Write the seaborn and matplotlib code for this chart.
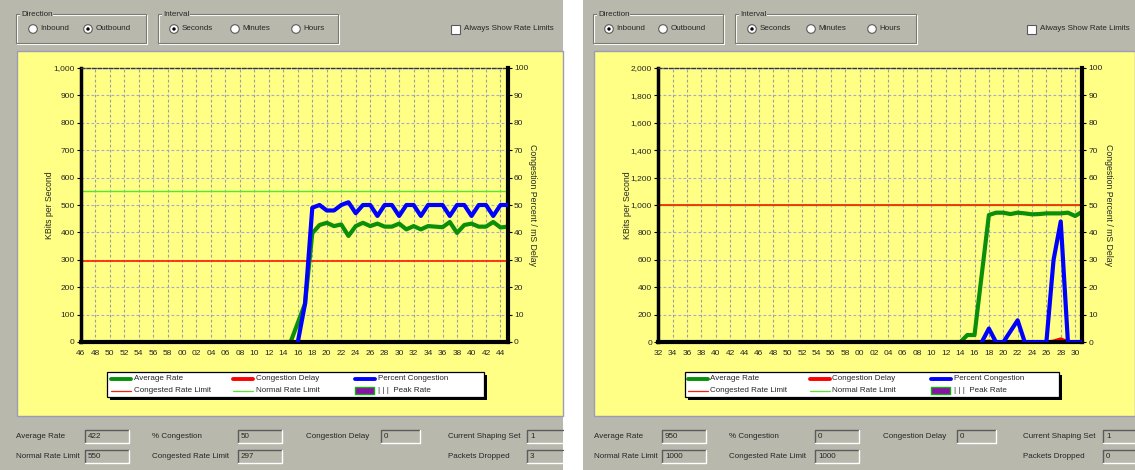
import numpy as np
import pandas as pd
import matplotlib
matplotlib.use("Agg")
import matplotlib.pyplot as plt
import seaborn as sns
from matplotlib.patches import Rectangle, Circle
from matplotlib.lines import Line2D
from matplotlib.ticker import MultipleLocator, FuncFormatter

sns.set_style("white")
plt.rcParams['font.family'] = ['Liberation Sans', 'DejaVu Sans']

# ---------------- data ----------------
left_tick_labels = ["46", "48", "50", "52", "54", "56", "58", "00", "02", "04", "06", "08", "10", "12", "14",
                    "16", "18", "20", "22", "24", "26", "28", "30", "32", "34", "36", "38", "40", "42", "44"]
right_tick_labels = ["32", "34", "36", "38", "40", "42", "44", "46", "48", "50", "52", "54", "56", "58", "00",
                     "02", "04", "06", "08", "10", "12", "14", "16", "18", "20", "22", "24", "26", "28", "30"]

# values per second; each series starts at the given second index (0..59)
left_avg_start = 28
left_avg = [0, 0, 70, 140, 397, 427, 435, 423, 429, 387, 423, 435, 423, 432, 421, 421,
            432, 411, 423, 411, 423, 421, 419, 438, 398, 427, 432, 421, 421, 438, 418, 421]
left_pct_start = 30
left_pct = [0, 14, 49, 50, 48, 48, 50, 51, 47, 50, 50, 46, 50, 50, 46,
            50, 50, 46, 50, 50, 50, 46, 50, 50, 46, 50, 50, 46, 50, 50]
left_delay_start = 30
left_delay = [0, 0, 0, 0, 0, 0, 0, 0, 0, 0, 0, 0, 0, 0, 0,
              0, 0, 0, 0, 0, 0, 0, 0, 0, 0, 0, 0, 0, 0, 0]
left_normal_limit = 550
left_congested_limit = 297
left_ymax = 1000

right_avg_start = 42
right_avg = [0, 53, 53, 490, 927, 944, 944, 934, 944, 939, 932, 934, 939, 939, 939, 944, 920, 951]
right_pct_start = 45
right_pct = [0, 5, 0, 0, 4, 8, 0, 0, 0, 0, 30, 44, 0, 0, 0]
right_delay_start = 45
right_delay = [0, 0.4, 0, 0, 0, 0, 0, 0, 0, 0, 0.4, 1.2, 0.2, 0, 0]
right_normal_limit = 1000
right_congested_limit = 1000
right_ymax = 2000

left_stats = [("Average Rate", "422"), ("% Congestion", "50"), ("Congestion Delay", "0"),
              ("Current Shaping Set", "1"), ("Normal Rate Limit", "550"),
              ("Congested Rate Limit", "297"), ("Packets Dropped", "3")]
right_stats = [("Average Rate", "950"), ("% Congestion", "0"), ("Congestion Delay", "0"),
               ("Current Shaping Set", "1"), ("Normal Rate Limit", "1000"),
               ("Congested Rate Limit", "1000"), ("Packets Dropped", "0")]

# ---------------- style ----------------
W, H = 1135, 470
GRAY = "#b8b8ad"
YELLOW = "#ffff85"
C_AVG = "#0a8f0a"
C_PCT = "#0000ff"
C_DELAY = "#ff0000"
C_NORMAL = "#55e633"
C_CONG = "#ff1a00"
UI_FS = 5.75
TICK_FS = 6.0

fig = plt.figure(figsize=(W / 100, H / 100), dpi=100)
fig.patch.set_facecolor("white")
bg = fig.add_axes([0, 0, 1, 1])
bg.set_xlim(0, W)
bg.set_ylim(H, 0)
bg.axis("off")
bg.set_zorder(-5)


def rect_px(x0, y0, x1, y1):
    return [x0 / W, 1 - y1 / H, (x1 - x0) / W, (y1 - y0) / H]


def group_box(x0, x1, y0, y1, label):
    bg.add_patch(Rectangle((x0 + 1, y0 + 1), x1 - x0, y1 - y0, fill=False, ec="white", lw=0.8))
    bg.add_patch(Rectangle((x0, y0), x1 - x0, y1 - y0, fill=False, ec="#7a7a72", lw=0.8))
    bg.text(x0 + 5, y0, label, fontsize=UI_FS, ha="left", va="center",
            bbox=dict(fc=GRAY, ec="none", pad=0.6))


def radio(cx, cy, text, selected):
    bg.add_patch(Circle((cx, cy), 4.3, fc="white", ec="#5a5a5a", lw=0.8))
    if selected:
        bg.add_patch(Circle((cx, cy), 1.7, fc="black", ec="none"))
    bg.text(cx + 7.5, cy, text, fontsize=UI_FS, ha="left", va="center")


def checkbox(cx, cy, text):
    bg.add_patch(Rectangle((cx - 4.5, cy - 4.5), 9, 9, fc="white", ec="#5a5a5a", lw=0.8))
    bg.text(cx + 9.5, cy, text, fontsize=UI_FS, ha="left", va="center")


def edit_box(x0, yc, w, text, limit):
    y0, y1 = yc - 6.5, yc + 6.5
    x1 = min(x0 + w, limit)
    bg.add_patch(Rectangle((x0, y0), x1 - x0, 13, fc=GRAY, ec="none"))
    bg.add_line(Line2D([x0, x0, x1], [y1, y0, y0], color="#5c5c5c", lw=1.0))
    if x0 + w <= limit:
        bg.add_line(Line2D([x0, x1, x1], [y1, y1, y0], color="white", lw=1.0))
    else:
        bg.add_line(Line2D([x0, x1], [y1, y1], color="white", lw=1.0))
    bg.text(x0 + 3, yc + 0.5, text, fontsize=UI_FS, ha="left", va="center")


def panel(p):
    # background panels
    bg.add_patch(Rectangle((p["gx0"], 0), p["gx1"] - p["gx0"], H, fc=GRAY, ec="none"))
    bg.add_patch(Rectangle((p["yx0"], 51), p["yx1"] - p["yx0"], 365, fc=YELLOW, ec="#9c9cb8", lw=1))
    # top controls
    group_box(p["dir"][0], p["dir"][1], 14, 43, "Direction")
    group_box(p["int"][0], p["int"][1], 14, 43, "Interval")
    for (cx, txt, sel) in p["radios"]:
        radio(cx, 29, txt, sel)
    checkbox(p["chk"], 29, "Always Show Rate Limits")

    # chart
    x0, y0, x1, y1 = p["plot"]
    ax = fig.add_axes(rect_px(x0, y0, x1, y1))
    ax.set_facecolor("none")
    avg_df = pd.DataFrame({"t": np.arange(p["avg_start"], p["avg_start"] + len(p["avg"])), "v": p["avg"]})
    sns.lineplot(data=avg_df, x="t", y="v", ax=ax, color=C_AVG, lw=3, zorder=3)
    ax.axhline(p["normal"], color=C_NORMAL, lw=1.0, zorder=2)
    ax.axhline(p["congested"], color=C_CONG, lw=1.2, zorder=2.1)
    ax.set_xlim(0, 59)
    ax.set_ylim(0, p["ymax"])
    ax.set_xticks(np.arange(0, 59, 2))
    ax.set_xticklabels(p["labels"])
    ax.xaxis.set_minor_locator(MultipleLocator(1))
    ax.set_yticks(np.arange(0, p["ymax"] + 1, p["ymax"] / 10))
    ax.yaxis.set_major_formatter(FuncFormatter(lambda v, pos: f"{int(round(v)):,}"))
    ax.tick_params(axis="x", which="both", direction="inout", length=4, width=0.8,
                   color="black", labelsize=TICK_FS, pad=3.5)
    ax.tick_params(axis="y", which="major", direction="out", length=3, width=0.8,
                   color="black", labelsize=TICK_FS, pad=1.5)
    ax.set_xlabel("")
    ax.set_ylabel("")
    ax.set_axisbelow(True)
    ax.yaxis.grid(True, color="#a8a8d0", ls=(0, (2.5, 2)), lw=0.8)
    ax.xaxis.grid(True, color="#9e9e9e", ls=(0, (2.5, 2)), lw=0.8)
    for s in ["right", "bottom"]:
        ax.spines[s].set_visible(False)
    ax.spines["top"].set_linestyle((0, (2.5, 1.5)))
    ax.spines["top"].set_color("#303050")
    ax.spines["top"].set_linewidth(1.0)
    ax.spines["left"].set_color("black")
    ax.spines["left"].set_linewidth(2.5)

    ax2 = ax.twinx()
    dly_df = pd.DataFrame({"t": np.arange(p["dly_start"], p["dly_start"] + len(p["dly"])), "v": p["dly"]})
    pct_df = pd.DataFrame({"t": np.arange(p["pct_start"], p["pct_start"] + len(p["pct"])), "v": p["pct"]})
    sns.lineplot(data=dly_df, x="t", y="v", ax=ax2, color=C_DELAY, lw=2.4, zorder=2)
    sns.lineplot(data=pct_df, x="t", y="v", ax=ax2, color=C_PCT, lw=3, zorder=3)
    ax2.set_ylim(0, 100)
    ax2.set_xlim(0, 59)
    ax2.set_yticks(np.arange(0, 101, 10))
    ax2.tick_params(axis="y", direction="out", length=3, width=0.8, color="black",
                    labelsize=TICK_FS, pad=1.5)
    ax2.set_ylabel("")
    for s in ["left", "top"]:
        ax2.spines[s].set_visible(False)
    for s in ["right", "bottom"]:
        ax2.spines[s].set_color("black")
        ax2.spines[s].set_linewidth(3.0)
        ax2.spines[s].set_zorder(2.5)

    bg.text(p["ylab_l"], 205, "KBits per Second", fontsize=6.3, rotation=90, ha="center", va="center")
    bg.text(p["ylab_r"], 205, "Congestion Percent / mS Delay", fontsize=6.3, rotation=270,
            ha="center", va="center")

    # legend
    lx0, lx1 = p["leg"]
    bg.add_patch(Rectangle((lx0 + 3, 375), lx1 - lx0, 25, fc="black", ec="none"))
    bg.add_patch(Rectangle((lx0, 372), lx1 - lx0, 25, fc="white", ec="black", lw=0.9))
    cols = p["legcols"]
    rows = [379, 390.5]
    entries = [(0, 0, "Average Rate", C_AVG, 2.8), (1, 0, "Congestion Delay", C_DELAY, 2.8),
               (2, 0, "Percent Congestion", C_PCT, 2.8), (0, 1, "Congested Rate Limit", C_CONG, 0.9),
               (1, 1, "Normal Rate Limit", C_NORMAL, 0.9)]
    for c, r, txt, col, lw in entries:
        bg.add_line(Line2D([cols[c], cols[c] + 20], [rows[r], rows[r]], color=col, lw=lw))
        bg.text(cols[c] + 22.5, rows[r], txt, fontsize=UI_FS, ha="left", va="center")
    bg.add_patch(Rectangle((cols[2], rows[1] - 3.5), 19, 7, fc="#8a10a8", ec="#10b010", lw=1))
    bg.text(cols[2] + 22.5, rows[1], "| | |  Peak Rate", fontsize=UI_FS, ha="left", va="center")

    # stats
    lab_x = p["stat_lab"]
    box_x = p["stat_box"]
    widths = [44, 44, 39, 44]
    layout = [(0, 0), (1, 0), (2, 0), (3, 0), (0, 1), (1, 1), (3, 1)]
    for (lab, val), (c, r) in zip(p["stats"], layout):
        yc = 436 + 20 * r
        bg.text(lab_x[c], yc, lab, fontsize=UI_FS, ha="left", va="center")
        edit_box(box_x[c], yc, widths[c], val, p["gx1"])


left_panel = dict(gx0=0, gx1=563, yx0=17, yx1=563, dir=(16, 146), int=(158, 338),
                  radios=[(33, "Inbound", False), (88, "Outbound", True), (174, "Seconds", True),
                          (235, "Minutes", False), (296, "Hours", False)],
                  chk=455, plot=(80.7, 68, 507.7, 342), labels=left_tick_labels,
                  avg=left_avg, avg_start=left_avg_start, pct=left_pct, pct_start=left_pct_start,
                  dly=left_delay, dly_start=left_delay_start, normal=left_normal_limit,
                  congested=left_congested_limit, ymax=left_ymax, ylab_l=49, ylab_r=532.5,
                  leg=(107, 484), legcols=[111, 233, 355],
                  stat_lab=[16, 152, 306, 448], stat_box=[85, 238, 381, 527], stats=left_stats)

right_panel = dict(gx0=583, gx1=W, yx0=594, yx1=W, dir=(593, 723), int=(735, 916),
                   radios=[(609, "Inbound", True), (663, "Outbound", False), (752, "Seconds", True),
                           (811, "Minutes", False), (872, "Hours", False)],
                   chk=1031, plot=(658.3, 67.7, 1082.3, 342.3), labels=right_tick_labels,
                   avg=right_avg, avg_start=right_avg_start, pct=right_pct, pct_start=right_pct_start,
                   dly=right_delay, dly_start=right_delay_start, normal=right_normal_limit,
                   congested=right_congested_limit, ymax=right_ymax, ylab_l=627, ylab_r=1109,
                   leg=(685, 1059), legcols=[688, 810, 931],
                   stat_lab=[593.5, 729, 882.6, 1023], stat_box=[662, 815, 957, 1103], stats=right_stats)

panel(left_panel)
panel(right_panel)

fig.savefig("out.png", dpi=100, facecolor=fig.get_facecolor())
